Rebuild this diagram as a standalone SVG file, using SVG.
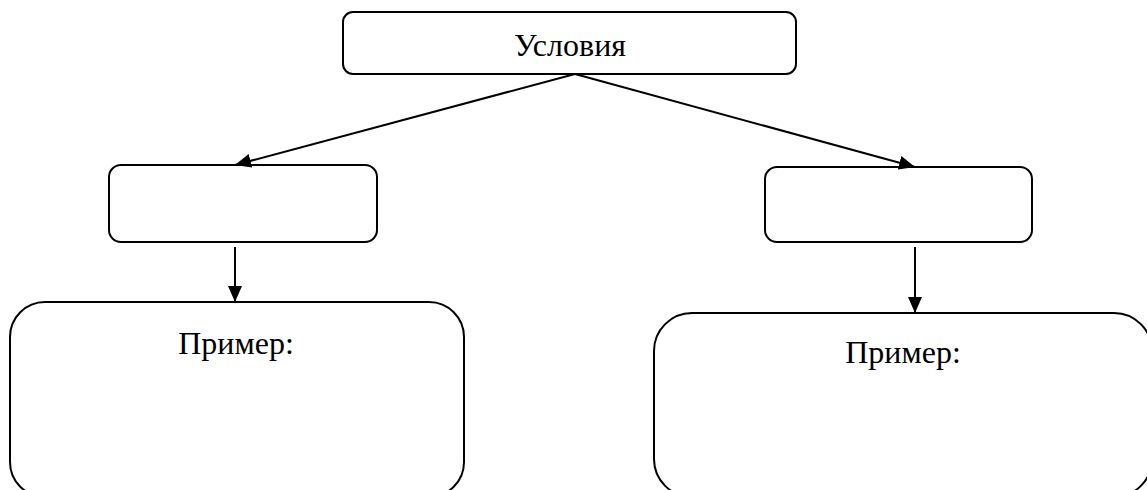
<svg xmlns="http://www.w3.org/2000/svg" width="1147" height="490" viewBox="0 0 1147 490">
<style>
.box{fill:#fff;stroke:#000;stroke-width:2}
.lbl{font-family:"Liberation Serif","Times New Roman",serif;font-size:32px;fill:#000;text-anchor:middle}
.con{stroke:#000;stroke-width:2;fill:none;marker-end:url(#ah)}
</style>
<defs>
<marker id="ah" viewBox="0 0 16 14" refX="16" refY="7" markerWidth="16" markerHeight="14" markerUnits="userSpaceOnUse" orient="auto">
<path d="M0,0 L16,7 L0,14 Z" fill="#000"/>
</marker>
</defs>
<rect width="1147" height="490" fill="#fff"/>
<g id="conditions">
<rect class="box" x="343" y="12" width="453" height="62" rx="10"/>
<text class="lbl" x="570" y="56">Условия</text>
</g>
<g id="left-mid">
<rect class="box" x="109" y="165" width="268" height="77" rx="12"/>
</g>
<g id="right-mid">
<rect class="box" x="765" y="167" width="267" height="75" rx="12"/>
</g>
<g id="left-example">
<rect class="box" x="10" y="302" width="454" height="195" rx="35"/>
<text class="lbl" x="236" y="354">Пример:</text>
</g>
<g id="right-example">
<rect class="box" x="654" y="313" width="498" height="184" rx="38"/>
<text class="lbl" x="903" y="363">Пример:</text>
</g>
<g id="connectors">
<line class="con" x1="575" y1="74" x2="235" y2="165"/>
<line class="con" x1="575" y1="74" x2="915" y2="167"/>
<line class="con" x1="235" y1="247" x2="235" y2="302"/>
<line class="con" x1="915" y1="247" x2="915" y2="313"/>
</g>
</svg>
